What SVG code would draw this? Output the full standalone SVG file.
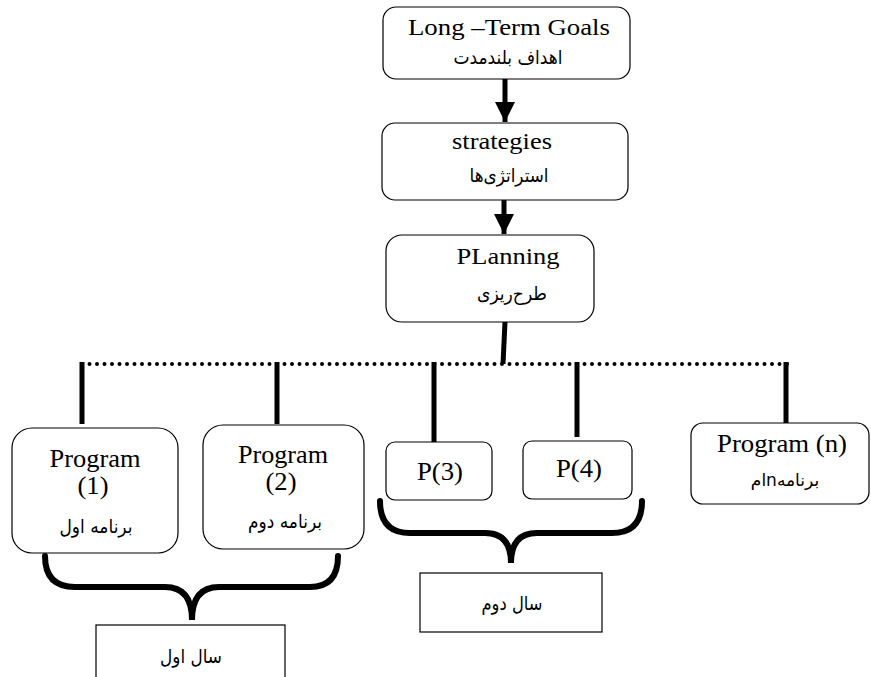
<svg xmlns="http://www.w3.org/2000/svg" width="871" height="677" viewBox="0 0 871 677">
<style>
.box{fill:#fff;stroke:#000;stroke-width:1.2}
.en{font-family:"Liberation Serif","Times New Roman",serif;font-size:23px;fill:#000;text-anchor:middle}
.big{font-size:25px}
.fa{font-family:"DejaVu Sans",sans-serif;font-size:19px;fill:#000;text-anchor:middle}
.thick{stroke:#000;stroke-width:5;fill:none}
.brace{stroke:#000;stroke-width:6;fill:none;stroke-linecap:round}
.dots{stroke:#000;stroke-width:4;stroke-dasharray:0 7.5;stroke-linecap:round;fill:none}
</style>
<defs>
<marker id="ah" viewBox="0 0 10 10" refX="10" refY="5" markerWidth="4" markerHeight="4" markerUnits="strokeWidth" orient="auto">
<path d="M0,0 L10,5 L0,10 z" fill="#000"/>
</marker>
</defs>
<rect width="871" height="677" fill="#fff"/>
<g id="connectors">
<line class="thick" x1="505" y1="79" x2="505" y2="122" marker-end="url(#ah)"/>
<line class="thick" x1="504" y1="200" x2="504" y2="234" marker-end="url(#ah)"/>
<line class="thick" x1="505" y1="322" x2="503" y2="364"/>
<line class="dots" x1="82" y1="364" x2="790" y2="364"/>
<line class="thick" x1="82" y1="362" x2="82" y2="424"/>
<line class="thick" x1="277" y1="362" x2="277" y2="424"/>
<line class="thick" x1="434" y1="362" x2="434" y2="447"/>
<line class="thick" x1="577" y1="362" x2="577" y2="437"/>
<line class="thick" x1="786" y1="362" x2="786" y2="423"/>
<path class="brace" d="M45,556 Q45,587 75,587 L165,587 Q192,587 192,620 Q192,587 219,587 L310,587 Q338,587 338,556"/>
<path class="brace" d="M380,501 Q380,533 410,533 L485,533 Q511,533 511,563 Q511,533 537,533 L612,533 Q642,533 642,501"/>
</g>
<g id="goals">
<rect class="box" x="383" y="7" width="247" height="72" rx="13"/>
<text class="en" x="509" y="35" textLength="202" lengthAdjust="spacingAndGlyphs">Long –Term Goals</text>
<text class="fa" x="508" y="64" textLength="109" lengthAdjust="spacingAndGlyphs">اهداف بلندمدت</text>
</g>
<g id="strategies">
<rect class="box" x="382" y="123" width="246" height="77" rx="13"/>
<text class="en" x="502" y="149" textLength="100" lengthAdjust="spacingAndGlyphs">strategies</text>
<text class="fa" x="509" y="182" textLength="79" lengthAdjust="spacingAndGlyphs">استراتژی‌ها</text>
</g>
<g id="planning">
<rect class="box" x="386" y="235" width="208" height="87" rx="16"/>
<text class="en" x="508" y="264" textLength="103" lengthAdjust="spacingAndGlyphs">PLanning</text>
<text class="fa" x="512" y="300" textLength="70" lengthAdjust="spacingAndGlyphs">طرح‌ریزی</text>
</g>
<g id="program1">
<rect class="box" x="12" y="428" width="166" height="125" rx="20"/>
<text class="en big" x="95" y="467" textLength="91" lengthAdjust="spacingAndGlyphs">Program</text>
<text class="en big" x="93" y="494" textLength="31" lengthAdjust="spacingAndGlyphs">(1)</text>
<text class="fa" x="96" y="533" textLength="73" lengthAdjust="spacingAndGlyphs">برنامه اول</text>
</g>
<g id="program2">
<rect class="box" x="203" y="425" width="161" height="124" rx="20"/>
<text class="en big" x="283" y="463" textLength="90" lengthAdjust="spacingAndGlyphs">Program</text>
<text class="en big" x="281" y="490" textLength="31" lengthAdjust="spacingAndGlyphs">(2)</text>
<text class="fa" x="285" y="528" textLength="74" lengthAdjust="spacingAndGlyphs">برنامه دوم</text>
</g>
<g id="p3">
<rect class="box" x="386" y="442" width="106" height="58" rx="9"/>
<text class="en big" x="440" y="480" textLength="46" lengthAdjust="spacingAndGlyphs">P(3)</text>
</g>
<g id="p4">
<rect class="box" x="523" y="441" width="109" height="58" rx="9"/>
<text class="en big" x="579" y="477" textLength="46" lengthAdjust="spacingAndGlyphs">P(4)</text>
</g>
<g id="programn">
<rect class="box" x="691" y="423" width="178" height="81" rx="12"/>
<text class="en big" x="782" y="452" textLength="130" lengthAdjust="spacingAndGlyphs">Program (n)</text>
<text class="fa" x="785" y="486" direction="rtl" style="unicode-bidi:embed;font-size:17px">برنامهnام</text>
</g>
<g id="year1">
<rect class="box" x="96" y="625" width="189" height="60"/>
<text class="fa" x="191" y="663" textLength="62" lengthAdjust="spacingAndGlyphs">سال اول</text>
</g>
<g id="year2">
<rect class="box" x="420" y="573" width="182" height="59"/>
<text class="fa" x="512" y="610" textLength="61" lengthAdjust="spacingAndGlyphs">سال دوم</text>
</g>
</svg>
